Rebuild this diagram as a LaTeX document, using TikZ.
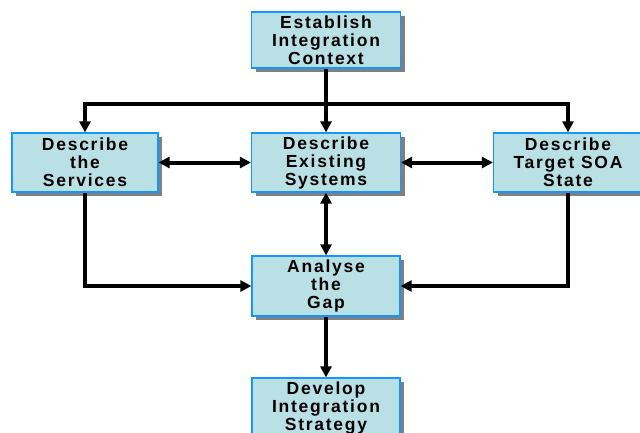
\documentclass[tikz,border=0pt]{standalone}
\usepackage{fontspec}
\setmainfont{Liberation Sans}
\usetikzlibrary{arrows.meta,shadows}
\definecolor{boxfill}{RGB}{185,224,228}
\definecolor{boxline}{RGB}{20,150,255}
\definecolor{shadowgray}{RGB}{128,128,128}
\begin{document}
\begin{tikzpicture}[x=1pt,y=-1pt,
  stepbox/.style={draw=boxline, line width=1.2pt, fill=boxfill, minimum width=149pt, minimum height=58pt,
    inner sep=0pt, align=center,
    font=\fontsize{17.5}{18}\selectfont\bfseries\addfontfeature{LetterSpace=10},
    drop shadow={shadow xshift=4pt, shadow yshift=-4pt, fill=shadowgray, opacity=1}},
  conn/.style={line width=4pt, line join=miter},
  tip/.style={-{Triangle[length=11pt,width=11pt]}},
  bitip/.style={{Triangle[length=11pt,width=11pt]}-{Triangle[length=11pt,width=11pt]}}
]
\useasboundingbox (0,0) rectangle (640,432);
\begin{scope}
\clip (0,0) rectangle (640,432);
\node[stepbox, minimum height=56pt] (top) at (326,40) {Establish\\Integration\\Context};
\node[stepbox, minimum width=146pt, minimum height=59pt] (left) at (85,162.5) {Describe\\the\\Services};
\node[stepbox, minimum height=59pt] (mid) at (326,162.5) {Describe\\Existing\\Systems};
\node[stepbox, minimum height=59pt] (right) at (568,162.5) {Describe\\Target SOA\\State};
\node[stepbox, minimum width=148pt, minimum height=60pt] (gap) at (326,286) {Analyse\\the\\Gap};
\node[stepbox, minimum width=148pt, minimum height=60pt] (bottom) at (326,408) {Develop\\Integration\\Strategy};
\coordinate (bus) at (326,104);
\draw[conn] (top.south) -- (bus);
\draw[conn,tip] (bus) -| (left.north);
\draw[conn,tip] (bus) -| (right.north);
\draw[conn,tip] (bus) -- (mid.north);
\draw[conn,bitip] (left.east) -- (mid.west);
\draw[conn,bitip] (mid.east) -- (right.west);
\draw[conn,bitip] (mid.south) -- (gap.north);
\draw[conn,tip] (left.south) |- (gap.west);
\draw[conn,tip] (right.south) |- (gap.east);
\draw[conn,tip] (gap.south) -- (bottom.north);
\end{scope}
\end{tikzpicture}
\end{document}
